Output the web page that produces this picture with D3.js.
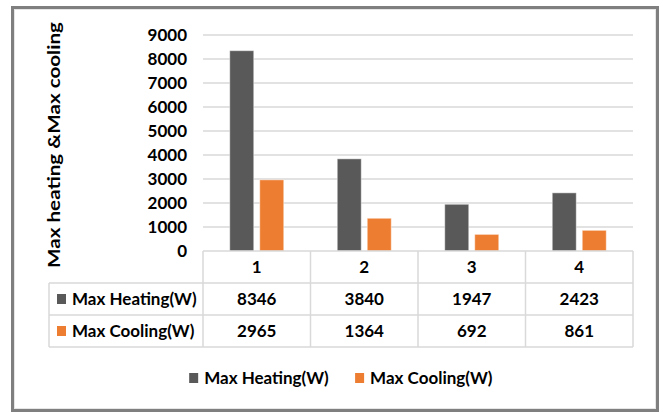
<!DOCTYPE html>
<html>
<head>
<meta charset="utf-8">
<script src="https://cdn.jsdelivr.net/npm/d3@7"></script>
<style>
  html, body { margin: 0; padding: 0; background: #fff; }
  svg text { font-family: Lato, "Open Sans", sans-serif; font-weight: bold; fill: #000; }
</style>
</head>
<body>
<div id="chart"></div>
<script>
(function () {

  // Data
  const categories = ["1", "2", "3", "4"]
  const seriesNames = ["Max Heating(W)", "Max Cooling(W)"]
  const heating = [8346, 3840, 1947, 2423]
  const cooling = [2965, 1364, 692, 861]
  const yTickValues = [0, 1000, 2000, 3000, 4000, 5000, 6000, 7000, 8000, 9000]
  const yTitle = "Max heating &Max cooling"

  const colors = ["#595959", "#ed7d31"]
  const series = [heating, cooling]

  // Layout
  const W = 663, H = 413
  const plot = { left: 203, right: 633, top: 35, bottom: 251 }
  const tableLeft = 49
  const rowH = 32

  const svg = d3.select("#chart").append("svg")
    .attr("width", W)
    .attr("height", H)

  // Outer frame
  svg.append("rect")
    .attr("x", 12.5).attr("y", 7.5)
    .attr("width", 645).attr("height", 403)
    .attr("fill", "#fff")
    .attr("stroke", "#7f7f7f")
    .attr("stroke-width", 3)
  svg.append("rect")
    .attr("x", 14.5).attr("y", 9.5)
    .attr("width", 641).attr("height", 399)
    .attr("fill", "none")
    .attr("stroke", "#e6e6e6")
    .attr("stroke-width", 1)

  // Scales
  const x = d3.scaleBand()
    .domain(categories)
    .range([plot.left, plot.right])

  const xInner = d3.scaleBand()
    .domain(seriesNames)
    .range([-27, 27])
    .paddingInner(0.2)

  const y = d3.scaleLinear()
    .domain([0, 9000])
    .range([plot.bottom, plot.top])

  // Gridlines
  svg.append("g")
    .selectAll("line")
    .data(yTickValues.filter(d => d > 0))
    .join("line")
    .attr("x1", plot.left)
    .attr("x2", plot.right)
    .attr("y1", d => y(d))
    .attr("y2", d => y(d))
    .attr("stroke", "#d9d9d9")
    .attr("stroke-width", 1.3)

  // Y axis labels
  const yAxis = d3.axisLeft(y)
    .tickValues(yTickValues)
    .tickFormat(d3.format("d"))
    .tickSize(0)
    .tickPadding(16)
  const yg = svg.append("g")
    .attr("transform", `translate(${plot.left},0)`)
    .call(yAxis)
  yg.select(".domain").remove()
  yg.selectAll("text")
    .attr("font-family", "Lato, sans-serif")
    .attr("font-size", 17)
    .attr("font-weight", "bold")
    .attr("fill", "#000")

  // Y axis title
  svg.append("text")
    .attr("transform", `translate(60,${(22 + 268) / 2}) rotate(-90)`)
    .attr("text-anchor", "middle")
    .attr("font-size", 17.5)
    .attr("textLength", 246)
    .attr("lengthAdjust", "spacingAndGlyphs")
    .text(yTitle)

  // Bars
  const barData = []
  series.forEach((vals, si) => {
    vals.forEach((v, ci) => barData.push({ cat: categories[ci], name: seriesNames[si], value: v, si: si }))
  })

  svg.append("g")
    .selectAll("rect")
    .data(barData)
    .join("rect")
    .attr("x", d => x(d.cat) + x.bandwidth() / 2 + xInner(d.name))
    .attr("width", xInner.bandwidth())
    .attr("y", d => y(d.value))
    .attr("height", d => y(0) - y(d.value))
    .attr("fill", d => colors[d.si])
    .attr("stroke", "rgba(255,255,255,0.45)")
    .attr("stroke-width", 1)

  // Data table
  const table = svg.append("g")
  const lineColor = "#d9d9d9"

  // horizontal lines
  table.append("line")
    .attr("x1", plot.left).attr("x2", plot.right)
    .attr("y1", plot.bottom).attr("y2", plot.bottom)
    .attr("stroke", lineColor).attr("stroke-width", 1.5)
  ;[1, 2, 3].forEach(r => {
    table.append("line")
      .attr("x1", tableLeft).attr("x2", plot.right)
      .attr("y1", plot.bottom + r * rowH).attr("y2", plot.bottom + r * rowH)
      .attr("stroke", lineColor).attr("stroke-width", 1.5)
  })
  // vertical lines
  table.append("line")
    .attr("x1", tableLeft).attr("x2", tableLeft)
    .attr("y1", plot.bottom + rowH).attr("y2", plot.bottom + 3 * rowH)
    .attr("stroke", lineColor).attr("stroke-width", 1.5)
  categories.concat(["end"]).forEach((c, i) => {
    const xx = i < categories.length ? x(c) : plot.right
    table.append("line")
      .attr("x1", xx).attr("x2", xx)
      .attr("y1", plot.bottom).attr("y2", plot.bottom + 3 * rowH)
      .attr("stroke", lineColor).attr("stroke-width", 1.5)
  })

  // header row
  table.selectAll("text.head")
    .data(categories)
    .join("text")
    .attr("class", "head")
    .attr("x", d => x(d) + x.bandwidth() / 2)
    .attr("y", plot.bottom + rowH / 2)
    .attr("dy", "0.36em")
    .attr("text-anchor", "middle")
    .attr("font-size", 17)
    .text(d => d)

  // value rows
  series.forEach((vals, si) => {
    const cy = plot.bottom + (si + 1) * rowH + rowH / 2
    table.append("rect")
      .attr("x", 57).attr("y", cy - 5)
      .attr("width", 9).attr("height", 10)
      .attr("fill", colors[si])
    table.append("text")
      .attr("x", 72).attr("y", cy)
      .attr("dy", "0.36em")
      .attr("font-size", 17)
      .text(seriesNames[si])
    table.selectAll(null)
      .data(vals)
      .join("text")
      .attr("x", (d, i) => x(categories[i]) + x.bandwidth() / 2)
      .attr("y", cy)
      .attr("dy", "0.36em")
      .attr("text-anchor", "middle")
      .attr("font-size", 17)
      .text(d => d)
  })

  // Legend
  const legendY = 378
  const legend = svg.append("g")
  const items = legend.selectAll("g")
    .data(seriesNames)
    .join("g")
  items.append("rect")
    .attr("y", legendY - 5)
    .attr("width", 9).attr("height", 10)
    .attr("fill", (d, i) => colors[i])
  items.append("text")
    .attr("x", 15)
    .attr("y", legendY)
    .attr("dy", "0.36em")
    .attr("font-size", 17)
    .text(d => d)

  // position legend items, centred under the table
  let widths = []
  items.each(function () { widths.push(this.getBBox().width) })
  const gap = 26
  const total = d3.sum(widths) + gap * (widths.length - 1)
  let cx = (tableLeft + plot.right) / 2 - total / 2
  items.attr("transform", (d, i) => {
    const t = `translate(${cx},0)`
    cx += widths[i] + gap
    return t
  })

})();
</script>
</body>
</html>
